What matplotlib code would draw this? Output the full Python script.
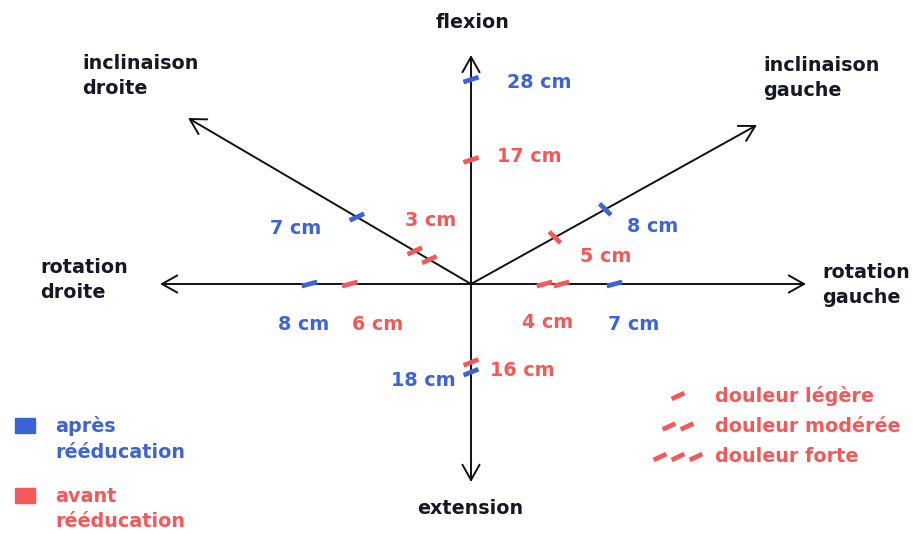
import numpy as np
import matplotlib
matplotlib.use("Agg")
import matplotlib.pyplot as plt

# ---------------- data ----------------
directions = ["flexion", "extension", "rotation droite", "rotation gauche",
              "inclinaison droite", "inclinaison gauche"]
avant = [17, 16, 6, 4, 3, 5]          # cm, avant rééducation
apres = [28, 18, 8, 7, 7, 8]          # cm, après rééducation
douleur_avant = [1, 1, 1, 2, 2, 1]    # 1 légère, 2 modérée, 3 forte
douleur_apres = [1, 1, 1, 1, 1, 1]
axis_titles = ["flexion", "extension", "rotation\ndroite", "rotation\ngauche",
               "inclinaison\ndroite", "inclinaison\ngauche"]
legend_douleur = ["douleur légère", "douleur modérée", "douleur forte"]
legend_series = ["après\nrééducation", "avant\nrééducation"]

# ---------------- layout / style ----------------
W, H = 913, 534
BLUE = "#3d64d6"
RED = "#f55858"
DARK = "#151925"
origin = np.array([471.0, 284.0])
# arrow end points (pixel space, y down)
ends = {
    "flexion": (471, 55), "extension": (471, 482),
    "rotation droite": (160, 284), "rotation gauche": (806, 284),
    "inclinaison droite": (188, 118), "inclinaison gauche": (757, 125),
}
# pixels per cm drawn along each direction
scale = {
    "flexion": 7.3, "extension": 4.9,
    "rotation droite": 20.2, "rotation gauche": 20.5,
    "inclinaison droite": 18.9, "inclinaison gauche": 19.2,
}
# screen angle of the pain strokes (deg)
stroke_angle = {
    "flexion": 18, "extension": 22,
    "rotation droite": 15, "rotation gauche": 15,
    "inclinaison droite": 25, "inclinaison gauche": -45,
}
title_pos = {
    "flexion": (473, 22, "center"), "extension": (470, 508, "center"),
    "rotation droite": (40, 280, "left"), "rotation gauche": (822, 285, "left"),
    "inclinaison droite": (82, 76, "left"), "inclinaison gauche": (763, 78, "left"),
}
# value label positions: (x, y, ha)
lab_avant = {
    "flexion": (497, 157, "left"), "extension": (490, 370, "left"),
    "rotation droite": (352, 324, "left"), "rotation gauche": (522, 323, "left"),
    "inclinaison droite": (405, 221, "left"), "inclinaison gauche": (580, 256, "left"),
}
lab_apres = {
    "flexion": (507, 83, "left"), "extension": (456, 381, "right"),
    "rotation droite": (278, 324, "left"), "rotation gauche": (608, 324, "left"),
    "inclinaison droite": (270, 228, "left"), "inclinaison gauche": (627, 226, "left"),
}

FS = 13.8
plt.rcParams["font.family"] = ["DejaVu Sans"]

fig = plt.figure(figsize=(W / 100, H / 100), dpi=100)
ax = fig.add_axes([0, 0, 1, 1])
ax.set_xlim(0, W)
ax.set_ylim(H, 0)
ax.axis("off")


def stroke(cx, cy, ang, color, n, along, gap=17, L=16, lw=3.4):
    a = np.deg2rad(ang)
    d = np.array([np.cos(a), -np.sin(a)])
    u = np.array(along)
    offs = (np.arange(n) - (n - 1) / 2) * gap
    for o in offs:
        c = np.array([cx, cy]) + o * u
        p0, p1 = c - d * L / 2, c + d * L / 2
        ax.plot([p0[0], p1[0]], [p0[1], p1[1]], color=color, lw=lw,
                solid_capstyle="butt", zorder=5)


# axes arrows
for name in directions:
    ax.annotate("", xy=ends[name], xytext=tuple(origin),
                arrowprops=dict(arrowstyle="->,head_length=0.5,head_width=0.28",
                                lw=1.4, color="#111111", mutation_scale=22,
                                shrinkA=0, shrinkB=0))

# marks and labels
for i, name in enumerate(directions):
    v = np.array(ends[name]) - origin
    u = v / np.linalg.norm(v)
    for val, lvl, col, labs in ((avant[i], douleur_avant[i], RED, lab_avant),
                                (apres[i], douleur_apres[i], BLUE, lab_apres)):
        p = origin + u * val * scale[name]
        stroke(p[0], p[1], stroke_angle[name], col, lvl, u)
        x, y, ha = labs[name]
        ax.text(x, y, f"{val} cm", color=col, fontsize=FS, fontweight="bold",
                ha=ha, va="center")
    tx, ty, ha = title_pos[name]
    ax.text(tx, ty, axis_titles[i], color=DARK,
            fontsize=FS, fontweight="bold", ha=ha, va="center", linespacing=1.45)

# pain legend
for k, txt in enumerate(legend_douleur):
    y = 396 + k * 30.5
    stroke(678, y, 25, RED, k + 1, (1, 0), gap=18, L=14)
    ax.text(715, y, txt, color=RED, fontsize=FS, fontweight="bold",
            ha="left", va="center")

# series legend
for k, (txt, col) in enumerate(zip(legend_series, [BLUE, RED])):
    y = 425 + k * 70
    ax.add_patch(plt.Rectangle((15, y - 7), 20, 15, color=col, zorder=4))
    ax.text(55, y + 14, txt, color=col, fontsize=FS, fontweight="bold",
            ha="left", va="center", linespacing=1.45)

fig.savefig("out.png", dpi=100)
